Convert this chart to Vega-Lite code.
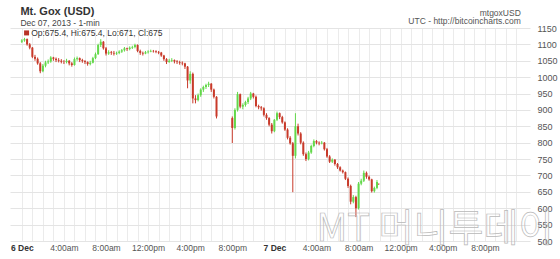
{
  "$schema": "https://vega.github.io/schema/vega-lite/v6.json",
  "width": 520,
  "height": 213,
  "autosize": {"type": "none"},
  "padding": {"left": 10, "top": 28, "right": 30, "bottom": 18},
  "background": "white",
  "config": {"view": {"stroke": null}, "font": "Liberation Sans"},
  "resolve": {"axis": {"x": "independent", "y": "independent"}},
  "data": {"values": [
    {"t":"2013-12-06T00:00:00Z","o":1108,"h":1116,"l":1104,"c":1112},
    {"t":"2013-12-06T00:15:00Z","o":1112,"h":1120,"l":1108,"c":1116},
    {"t":"2013-12-06T00:30:00Z","o":1116,"h":1118,"l":1096,"c":1100},
    {"t":"2013-12-06T00:45:00Z","o":1100,"h":1104,"l":1085,"c":1090},
    {"t":"2013-12-06T01:00:00Z","o":1090,"h":1092,"l":1058,"c":1062},
    {"t":"2013-12-06T01:15:00Z","o":1062,"h":1068,"l":1050,"c":1056},
    {"t":"2013-12-06T01:30:00Z","o":1056,"h":1060,"l":1038,"c":1042},
    {"t":"2013-12-06T01:45:00Z","o":1042,"h":1046,"l":1012,"c":1018},
    {"t":"2013-12-06T02:00:00Z","o":1018,"h":1040,"l":1015,"c":1035},
    {"t":"2013-12-06T02:15:00Z","o":1035,"h":1050,"l":1030,"c":1045},
    {"t":"2013-12-06T02:30:00Z","o":1045,"h":1054,"l":1040,"c":1048},
    {"t":"2013-12-06T02:45:00Z","o":1048,"h":1064,"l":1044,"c":1060},
    {"t":"2013-12-06T03:00:00Z","o":1060,"h":1062,"l":1050,"c":1056},
    {"t":"2013-12-06T03:15:00Z","o":1056,"h":1060,"l":1046,"c":1052},
    {"t":"2013-12-06T03:30:00Z","o":1052,"h":1058,"l":1045,"c":1050},
    {"t":"2013-12-06T03:45:00Z","o":1050,"h":1055,"l":1042,"c":1047},
    {"t":"2013-12-06T04:00:00Z","o":1047,"h":1052,"l":1040,"c":1046},
    {"t":"2013-12-06T04:15:00Z","o":1046,"h":1056,"l":1042,"c":1050},
    {"t":"2013-12-06T04:30:00Z","o":1050,"h":1052,"l":1036,"c":1042},
    {"t":"2013-12-06T04:45:00Z","o":1042,"h":1046,"l":1032,"c":1037},
    {"t":"2013-12-06T05:00:00Z","o":1037,"h":1060,"l":1035,"c":1055},
    {"t":"2013-12-06T05:15:00Z","o":1055,"h":1063,"l":1050,"c":1058},
    {"t":"2013-12-06T05:30:00Z","o":1058,"h":1060,"l":1046,"c":1052},
    {"t":"2013-12-06T05:45:00Z","o":1052,"h":1056,"l":1044,"c":1049},
    {"t":"2013-12-06T06:00:00Z","o":1049,"h":1052,"l":1040,"c":1046},
    {"t":"2013-12-06T06:15:00Z","o":1046,"h":1048,"l":1035,"c":1040},
    {"t":"2013-12-06T06:30:00Z","o":1040,"h":1050,"l":1036,"c":1044},
    {"t":"2013-12-06T06:45:00Z","o":1044,"h":1062,"l":1042,"c":1058},
    {"t":"2013-12-06T07:00:00Z","o":1058,"h":1075,"l":1055,"c":1070},
    {"t":"2013-12-06T07:15:00Z","o":1070,"h":1102,"l":1068,"c":1098},
    {"t":"2013-12-06T07:30:00Z","o":1098,"h":1116,"l":1092,"c":1108},
    {"t":"2013-12-06T07:45:00Z","o":1108,"h":1110,"l":1084,"c":1088},
    {"t":"2013-12-06T08:00:00Z","o":1088,"h":1092,"l":1066,"c":1072},
    {"t":"2013-12-06T08:15:00Z","o":1072,"h":1082,"l":1068,"c":1076},
    {"t":"2013-12-06T08:30:00Z","o":1076,"h":1080,"l":1068,"c":1074},
    {"t":"2013-12-06T08:45:00Z","o":1074,"h":1080,"l":1066,"c":1072},
    {"t":"2013-12-06T09:00:00Z","o":1072,"h":1078,"l":1068,"c":1074},
    {"t":"2013-12-06T09:15:00Z","o":1074,"h":1082,"l":1070,"c":1078},
    {"t":"2013-12-06T09:30:00Z","o":1078,"h":1086,"l":1074,"c":1082},
    {"t":"2013-12-06T09:45:00Z","o":1082,"h":1092,"l":1078,"c":1088},
    {"t":"2013-12-06T10:00:00Z","o":1088,"h":1090,"l":1080,"c":1086},
    {"t":"2013-12-06T10:15:00Z","o":1086,"h":1094,"l":1082,"c":1090},
    {"t":"2013-12-06T10:30:00Z","o":1090,"h":1096,"l":1086,"c":1092},
    {"t":"2013-12-06T10:45:00Z","o":1092,"h":1102,"l":1088,"c":1098},
    {"t":"2013-12-06T11:00:00Z","o":1098,"h":1100,"l":1076,"c":1080},
    {"t":"2013-12-06T11:15:00Z","o":1080,"h":1084,"l":1068,"c":1074},
    {"t":"2013-12-06T11:30:00Z","o":1074,"h":1078,"l":1066,"c":1072},
    {"t":"2013-12-06T11:45:00Z","o":1072,"h":1080,"l":1070,"c":1076},
    {"t":"2013-12-06T12:00:00Z","o":1076,"h":1082,"l":1072,"c":1078},
    {"t":"2013-12-06T12:15:00Z","o":1078,"h":1084,"l":1076,"c":1080},
    {"t":"2013-12-06T12:30:00Z","o":1080,"h":1083,"l":1075,"c":1079},
    {"t":"2013-12-06T12:45:00Z","o":1079,"h":1082,"l":1073,"c":1077},
    {"t":"2013-12-06T13:00:00Z","o":1077,"h":1080,"l":1070,"c":1075},
    {"t":"2013-12-06T13:15:00Z","o":1075,"h":1077,"l":1062,"c":1066},
    {"t":"2013-12-06T13:30:00Z","o":1066,"h":1068,"l":1050,"c":1055},
    {"t":"2013-12-06T13:45:00Z","o":1055,"h":1058,"l":1040,"c":1046},
    {"t":"2013-12-06T14:00:00Z","o":1046,"h":1056,"l":1044,"c":1050},
    {"t":"2013-12-06T14:15:00Z","o":1050,"h":1058,"l":1046,"c":1052},
    {"t":"2013-12-06T14:30:00Z","o":1052,"h":1054,"l":1042,"c":1048},
    {"t":"2013-12-06T14:45:00Z","o":1048,"h":1052,"l":1040,"c":1046},
    {"t":"2013-12-06T15:00:00Z","o":1046,"h":1050,"l":1038,"c":1044},
    {"t":"2013-12-06T15:15:00Z","o":1044,"h":1048,"l":1036,"c":1042},
    {"t":"2013-12-06T15:30:00Z","o":1042,"h":1044,"l":1025,"c":1032},
    {"t":"2013-12-06T15:45:00Z","o":1032,"h":1034,"l":966,"c":990},
    {"t":"2013-12-06T16:00:00Z","o":990,"h":1018,"l":980,"c":1010},
    {"t":"2013-12-06T16:15:00Z","o":1010,"h":1014,"l":920,"c":935},
    {"t":"2013-12-06T16:30:00Z","o":935,"h":945,"l":920,"c":930},
    {"t":"2013-12-06T16:45:00Z","o":930,"h":950,"l":926,"c":945},
    {"t":"2013-12-06T17:00:00Z","o":945,"h":966,"l":940,"c":962},
    {"t":"2013-12-06T17:15:00Z","o":962,"h":974,"l":955,"c":970},
    {"t":"2013-12-06T17:30:00Z","o":970,"h":980,"l":964,"c":976},
    {"t":"2013-12-06T17:45:00Z","o":976,"h":986,"l":970,"c":980},
    {"t":"2013-12-06T18:00:00Z","o":980,"h":982,"l":955,"c":962},
    {"t":"2013-12-06T18:15:00Z","o":962,"h":965,"l":935,"c":940},
    {"t":"2013-12-06T18:30:00Z","o":940,"h":942,"l":874,"c":880},
    {"t":"2013-12-06T20:00:00Z","o":875,"h":880,"l":799,"c":845},
    {"t":"2013-12-06T20:15:00Z","o":845,"h":905,"l":840,"c":900},
    {"t":"2013-12-06T20:30:00Z","o":900,"h":955,"l":895,"c":948},
    {"t":"2013-12-06T20:45:00Z","o":948,"h":950,"l":905,"c":910},
    {"t":"2013-12-06T21:00:00Z","o":910,"h":920,"l":902,"c":915},
    {"t":"2013-12-06T21:15:00Z","o":915,"h":928,"l":910,"c":924},
    {"t":"2013-12-06T21:30:00Z","o":924,"h":940,"l":918,"c":935},
    {"t":"2013-12-06T21:45:00Z","o":935,"h":955,"l":930,"c":950},
    {"t":"2013-12-06T22:00:00Z","o":950,"h":952,"l":935,"c":940},
    {"t":"2013-12-06T22:15:00Z","o":940,"h":944,"l":908,"c":912},
    {"t":"2013-12-06T22:30:00Z","o":912,"h":916,"l":902,"c":908},
    {"t":"2013-12-06T22:45:00Z","o":908,"h":912,"l":898,"c":905},
    {"t":"2013-12-06T23:00:00Z","o":905,"h":908,"l":880,"c":885},
    {"t":"2013-12-06T23:15:00Z","o":885,"h":890,"l":870,"c":875},
    {"t":"2013-12-06T23:30:00Z","o":875,"h":878,"l":850,"c":855},
    {"t":"2013-12-06T23:45:00Z","o":855,"h":860,"l":828,"c":835},
    {"t":"2013-12-07T00:00:00Z","o":835,"h":872,"l":832,"c":870},
    {"t":"2013-12-07T00:15:00Z","o":870,"h":895,"l":866,"c":890},
    {"t":"2013-12-07T00:30:00Z","o":890,"h":892,"l":872,"c":878},
    {"t":"2013-12-07T00:45:00Z","o":878,"h":882,"l":858,"c":862},
    {"t":"2013-12-07T01:00:00Z","o":862,"h":865,"l":836,"c":840},
    {"t":"2013-12-07T01:15:00Z","o":840,"h":844,"l":810,"c":815},
    {"t":"2013-12-07T01:30:00Z","o":815,"h":820,"l":794,"c":798},
    {"t":"2013-12-07T01:45:00Z","o":798,"h":802,"l":649,"c":760},
    {"t":"2013-12-07T02:00:00Z","o":760,"h":890,"l":752,"c":850},
    {"t":"2013-12-07T02:15:00Z","o":850,"h":858,"l":822,"c":828},
    {"t":"2013-12-07T02:30:00Z","o":828,"h":832,"l":795,"c":800},
    {"t":"2013-12-07T02:45:00Z","o":800,"h":804,"l":760,"c":765},
    {"t":"2013-12-07T03:00:00Z","o":765,"h":770,"l":744,"c":750},
    {"t":"2013-12-07T03:15:00Z","o":750,"h":775,"l":746,"c":770},
    {"t":"2013-12-07T03:30:00Z","o":770,"h":794,"l":766,"c":790},
    {"t":"2013-12-07T03:45:00Z","o":790,"h":810,"l":786,"c":805},
    {"t":"2013-12-07T04:00:00Z","o":805,"h":808,"l":795,"c":800},
    {"t":"2013-12-07T04:15:00Z","o":800,"h":804,"l":792,"c":798},
    {"t":"2013-12-07T04:30:00Z","o":798,"h":805,"l":795,"c":800},
    {"t":"2013-12-07T04:45:00Z","o":800,"h":802,"l":776,"c":780},
    {"t":"2013-12-07T05:00:00Z","o":780,"h":784,"l":754,"c":758},
    {"t":"2013-12-07T05:15:00Z","o":758,"h":762,"l":738,"c":742},
    {"t":"2013-12-07T05:30:00Z","o":742,"h":752,"l":738,"c":748},
    {"t":"2013-12-07T05:45:00Z","o":748,"h":750,"l":730,"c":735},
    {"t":"2013-12-07T06:00:00Z","o":735,"h":738,"l":720,"c":725},
    {"t":"2013-12-07T06:15:00Z","o":725,"h":728,"l":712,"c":715},
    {"t":"2013-12-07T06:30:00Z","o":715,"h":718,"l":706,"c":710},
    {"t":"2013-12-07T06:45:00Z","o":710,"h":712,"l":686,"c":690},
    {"t":"2013-12-07T07:00:00Z","o":690,"h":694,"l":662,"c":668},
    {"t":"2013-12-07T07:15:00Z","o":668,"h":672,"l":612,"c":620},
    {"t":"2013-12-07T07:30:00Z","o":620,"h":640,"l":615,"c":634},
    {"t":"2013-12-07T07:45:00Z","o":634,"h":638,"l":573,"c":600},
    {"t":"2013-12-07T08:00:00Z","o":600,"h":680,"l":596,"c":675},
    {"t":"2013-12-07T08:15:00Z","o":675,"h":690,"l":670,"c":684},
    {"t":"2013-12-07T08:30:00Z","o":684,"h":715,"l":680,"c":708},
    {"t":"2013-12-07T08:45:00Z","o":708,"h":712,"l":690,"c":696},
    {"t":"2013-12-07T09:00:00Z","o":696,"h":700,"l":684,"c":688},
    {"t":"2013-12-07T09:15:00Z","o":688,"h":690,"l":648,"c":652},
    {"t":"2013-12-07T09:30:00Z","o":652,"h":666,"l":648,"c":662},
    {"t":"2013-12-07T09:45:00Z","o":662,"h":686,"l":658,"c":680},
    {"t":"2013-12-07T09:55:00Z","o":675.4,"h":675.4,"l":671,"c":675}
  ]},
  "layer": [
    {
      "mark": {"type": "rule", "strokeWidth": 1},
      "encoding": {
        "x": {
          "field": "t",
          "type": "temporal",
          "scale": {"type": "utc", "domain": [1386285660000, 1386460140000]},
          "axis": {
            "title": null,
            "values": [1386288000000, 1386291600000, 1386295200000, 1386298800000, 1386302400000, 1386306000000, 1386309600000, 1386313200000, 1386316800000, 1386320400000, 1386324000000, 1386327600000, 1386331200000, 1386334800000, 1386338400000, 1386342000000, 1386345600000, 1386349200000, 1386352800000, 1386356400000, 1386360000000, 1386363600000, 1386367200000, 1386370800000, 1386374400000, 1386378000000, 1386381600000, 1386385200000, 1386388800000, 1386392400000, 1386396000000, 1386399600000, 1386403200000, 1386406800000, 1386410400000, 1386414000000, 1386417600000, 1386421200000, 1386424800000, 1386428400000, 1386432000000, 1386435600000, 1386439200000, 1386442800000, 1386446400000, 1386450000000, 1386453600000, 1386457200000],
            "labelExpr": "utchours(datum.value) % 4 != 0 ? '' : (utchours(datum.value) == 0 ? utcFormat(datum.value, '%-d %b') : utcFormat(datum.value, '%-I:%M') + (utchours(datum.value) < 12 ? 'am' : 'pm'))",
            "labelOverlap": false,
            "labelFlush": false,
            "labelFontSize": 8.5,
            "labelColor": {"condition": {"test": "utchours(datum.value) == 0", "value": "#333333"}, "value": "#555555"},
            "labelFontWeight": {"condition": {"test": "utchours(datum.value) == 0", "value": "bold"}, "value": "normal"},
            "labelPadding": 2,
            "ticks": false,
            "domain": false,
            "grid": true,
            "gridColor": "#ebebeb",
            "gridWidth": 1
          }
        },
        "y": {
          "field": "l",
          "type": "quantitative",
          "scale": {"domain": [500, 1150], "nice": false, "zero": false},
          "axis": {
            "title": null,
            "orient": "right",
            "values": [500, 550, 600, 650, 700, 750, 800, 850, 900, 950, 1000, 1050, 1100, 1150],
            "format": "d",
            "labelOverlap": false,
            "labelFontSize": 9,
            "labelColor": "#555555",
            "labelPadding": 7,
            "ticks": false,
            "domain": false,
            "grid": true,
            "gridColor": "#e4e4e4"
          }
        },
        "y2": {"field": "h"},
        "color": {"condition": {"test": "datum.c >= datum.o", "value": "#63d84a"}, "value": "#c83a2a"}
      }
    },
    {
      "mark": {"type": "bar", "width": 2},
      "encoding": {
        "x": {"field": "t", "type": "temporal", "axis": null},
        "y": {"field": "o", "type": "quantitative", "axis": null},
        "y2": {"field": "c"},
        "color": {"condition": {"test": "datum.c >= datum.o", "value": "#63d84a"}, "value": "#c83a2a"}
      }
    },
    {
      "data": {"values": [{}]},
      "mark": {"type": "text", "text": "Mt. Gox (USD)", "align": "left", "baseline": "alphabetic", "fontSize": 11, "fontWeight": "bold", "color": "#333333"},
      "encoding": {
        "x": {"datum": 1386287502000, "type": "temporal", "axis": null},
        "y": {"datum": 1191, "type": "quantitative", "axis": null}
      }
    },
    {
      "data": {"values": [{}]},
      "mark": {"type": "text", "text": "Dec 07, 2013 - 1-min", "align": "left", "baseline": "alphabetic", "fontSize": 8.5, "color": "#444444"},
      "encoding": {
        "x": {"datum": 1386287502000, "type": "temporal", "axis": null},
        "y": {"datum": 1157, "type": "quantitative", "axis": null}
      }
    },
    {
      "data": {"values": [{}]},
      "mark": {"type": "text", "text": "mtgoxUSD", "align": "right", "baseline": "alphabetic", "fontSize": 8.5, "color": "#555555"},
      "encoding": {
        "x": {"datum": 1386458700000, "type": "temporal", "axis": null},
        "y": {"datum": 1188, "type": "quantitative", "axis": null}
      }
    },
    {
      "data": {"values": [{}]},
      "mark": {"type": "text", "text": "UTC - http://bitcoincharts.com", "align": "right", "baseline": "alphabetic", "fontSize": 8.5, "color": "#555555"},
      "encoding": {
        "x": {"datum": 1386458700000, "type": "temporal", "axis": null},
        "y": {"datum": 1161, "type": "quantitative", "axis": null}
      }
    },
    {
      "data": {"values": [{}]},
      "mark": {"type": "point", "shape": "square", "filled": true, "size": 25, "color": "#b83226", "opacity": 1},
      "encoding": {
        "x": {"datum": 1386289620000, "type": "temporal", "axis": null},
        "y": {"datum": 1135, "type": "quantitative", "axis": null}
      }
    },
    {
      "data": {"values": [{}]},
      "mark": {"type": "text", "text": "Op:675.4, Hi:675.4, Lo:671, Cl:675", "align": "left", "baseline": "middle", "fontSize": 8.5, "color": "#333333"},
      "encoding": {
        "x": {"datum": 1386291180000, "type": "temporal", "axis": null},
        "y": {"datum": 1135, "type": "quantitative", "axis": null}
      }
    },
    {
      "data": {"values": [{}]},
      "mark": {"type": "text", "text": "MT 머니투데이", "align": "left", "baseline": "middle", "font": "Noto Sans CJK KR", "fontSize": 38, "fillOpacity": 0, "stroke": "#b8b8b8", "strokeWidth": 0.7},
      "encoding": {
        "x": {"datum": 1386388800000, "type": "temporal", "axis": null},
        "y": {"datum": 533, "type": "quantitative", "axis": null}
      }
    }
  ]
}
